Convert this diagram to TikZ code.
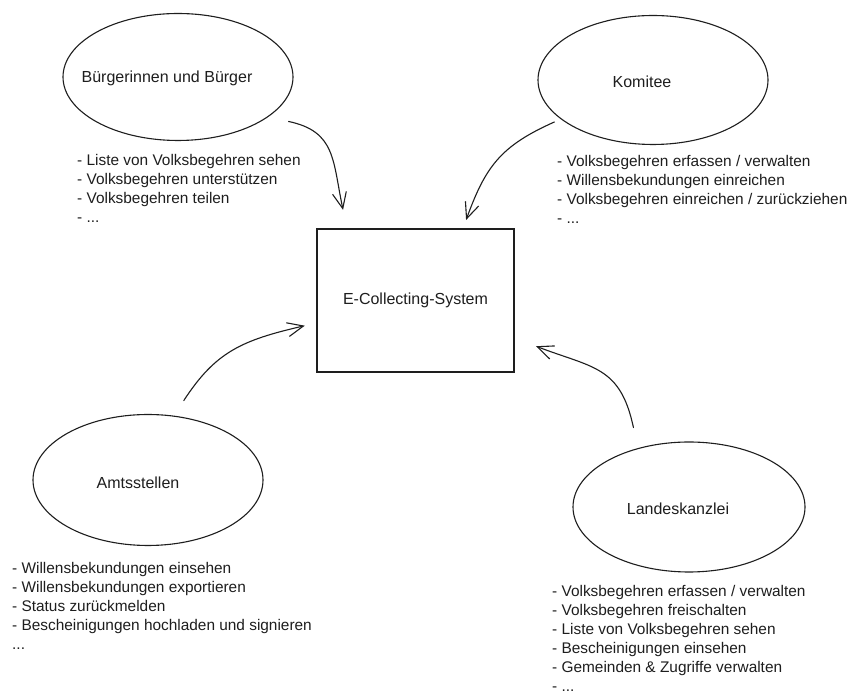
\documentclass[tikz,border=0pt]{standalone}
\usepackage{fontspec}
\setmainfont{Liberation Sans}
\usetikzlibrary{arrows.meta,shapes.geometric,calc}
\definecolor{ink}{HTML}{1E1E1E}
\begin{document}
\begin{tikzpicture}[x=1pt,y=1pt,
  actor/.style={ellipse, draw=ink, line width=1.1pt, inner sep=0pt},
  title/.style={font=\fontsize{16}{19}\selectfont, text=ink, inner sep=0pt},
  list/.style={font=\fontsize{15.4}{19}\selectfont, text=ink, align=left, anchor=north west, inner sep=0pt},
  sysbox/.style={draw=ink, line width=1.1pt, minimum width=197pt, minimum height=143pt, inner sep=0pt, font=\fontsize{16}{19}\selectfont, text=ink},
  arr/.style={draw=ink, line width=1.1pt, line cap=round, line join=round, -{Straight Barb[length=16pt,width=14pt]}}]
\useasboundingbox (0,0) rectangle (857,696);
\fill[white] (0,0) rectangle (857,696);

% central system
\node[sysbox] (sys) at (415.5,395.5) {E-Collecting-System};

% actors
\node[actor, minimum width=230pt, minimum height=127pt] (bu) at (178,619) {};
\node[title] (butxt) at (167,618) {Bürgerinnen und Bürger};
\node[actor, minimum width=230pt, minimum height=129pt] (ko) at (653,616) {};
\node[title] (kotxt) at (642,614) {Komitee};
\node[actor, minimum width=230pt, minimum height=131pt] (am) at (148,216) {};
\node[title] (amtxt) at (138,213) {Amtsstellen};
\node[actor, minimum width=232pt, minimum height=130pt] (la) at (689,189) {};
\node[title] (latxt) at (678,187) {Landeskanzlei};

% lists
\node[list] (bulist) at (77,541.5) {- Liste von Volksbegehren sehen\\- Volksbegehren unterstützen\\- Volksbegehren teilen\\- ...};
\node[list] (kolist) at (557,540.5) {- Volksbegehren erfassen / verwalten\\- Willensbekundungen einreichen\\- Volksbegehren einreichen / zurückziehen\\- ...};
\node[list] (amlist) at (12,133.5) {- Willensbekundungen einsehen\\- Willensbekundungen exportieren\\- Status zurückmelden\\- Bescheinigungen hochladen und signieren\\...};
\node[list] (lalist) at (552,110.5) {- Volksbegehren erfassen / verwalten\\- Volksbegehren freischalten\\- Liste von Volksbegehren sehen\\- Bescheinigungen einsehen\\- Gemeinden \& Zugriffe verwalten\\- ...};

% connectors
\draw[arr, shorten <=21pt, shorten >=19pt] (bu.-24.3) to[out=-12,in=102,looseness=1.3] ([xshift=-68.5pt]sys.north);
\draw[arr, shorten <=7pt, shorten >=9pt] (ko.203.2) to[out=204,in=70,looseness=1.15] ([xshift=47.5pt]sys.north);
\draw[arr, shorten <=18pt, shorten >=12pt] (am.68.5) to[out=57,in=193,looseness=1.15] ([yshift=-22.5pt]sys.west);
\draw[arr, shorten <=21pt, shorten >=23pt] (la.131.9) to[out=102,in=-21,looseness=1.3] ([yshift=-37.5pt]sys.east);
\end{tikzpicture}
\end{document}
